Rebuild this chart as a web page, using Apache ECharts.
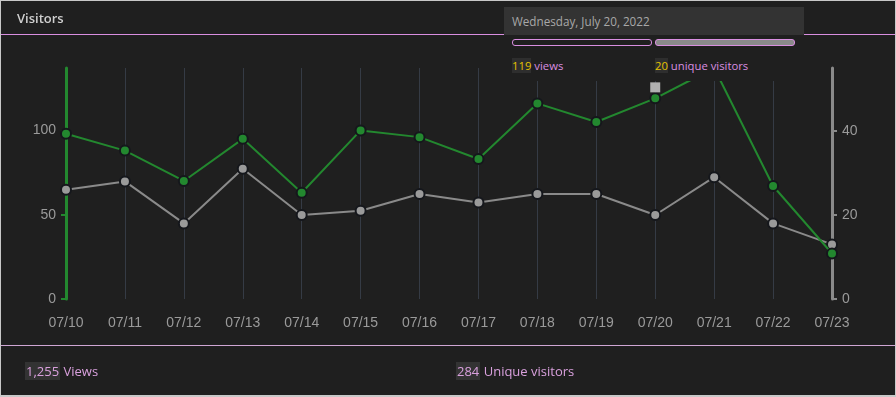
<!DOCTYPE html>
<html>
<head>
<meta charset="utf-8">
<script src="https://cdn.jsdelivr.net/npm/echarts@6/dist/echarts.min.js"></script>
<style>
  html, body { margin: 0; padding: 0; background: #1f1f1f; }
  .panel {
    position: relative; width: 896px; height: 397px; box-sizing: border-box;
    border: 1px solid #c8c8c8; border-bottom-width: 2px; background: #1f1f1f;
    font-family: "Open Sans", "Noto Sans", sans-serif; overflow: hidden;
  }
  .title { position: absolute; left: 16px; top: 8px; font-size: 13px; font-weight: 600; color: #cfcfcf; }
  .topline { position: absolute; left: 0; right: 0; top: 33px; height: 1px; background: #d98ee0; }
  .bottomline { position: absolute; left: 0; right: 0; top: 344px; height: 1px; background: #cfa6d4; }
  #visitorsChart { position: absolute; left: -1px; top: -1px; width: 896px; height: 397px; }
  .foot { position: absolute; top: 361px; font-size: 13px; color: #d9a0dd; }
  .num { background: #333; color: #d9a0dd; padding: 0 1px; }
  .tip { position: absolute; left: 503px; top: 6px; width: 300px; height: 74px; background: #1f1f1f; z-index: 5; }
  .tiphead { height: 28px; background: #333; color: #a8a8a8; font-size: 11.7px; line-height: 28px; padding-left: 8px; }
  .pill { position: absolute; top: 32px; height: 5px; border: 1px solid #d98ee0; border-radius: 3px; width: 138px; }
  .tiprow { position: absolute; top: 51px; font-size: 11.3px; color: #d98ee0; }
  .ynum { background: #2e2e2e; color: #e6c200; }
</style>
</head>
<body>
<div class="panel">
  <div id="visitorsChart"></div>
  <div class="title">Visitors</div>
  <div class="topline"></div>
  <div class="tip">
    <div class="tiphead" id="tipDate"></div>
    <div class="pill" style="left:8px;"></div>
    <div class="pill" style="left:151px; background:#8a8a8a;"></div>
    <div class="tiprow" style="left:8px;"><span class="ynum" id="tipViews"></span> views</div>
    <div class="tiprow" style="left:151px;"><span class="ynum" id="tipUnique"></span> unique visitors</div>
  </div>
  <div class="bottomline"></div>
  <div class="foot" style="left:24px;"><span class="num" id="totViews"></span> Views</div>
  <div class="foot" style="left:455px;"><span class="num" id="totUnique"></span> Unique visitors</div>
</div>
<script>
var days = ["07/10", "07/11", "07/12", "07/13", "07/14", "07/15", "07/16", "07/17", "07/18", "07/19", "07/20", "07/21", "07/22", "07/23"];
var views = [98, 88, 70, 95, 63, 100, 96, 83, 116, 105, 119, 137, 67, 27];
var uniqueVisitors = [26, 28, 18, 31, 20, 21, 25, 23, 25, 25, 20, 29, 18, 13];
var totalViews = "1,255";
var totalUnique = "284";
var hoverIndex = 10;
var hoverDate = "Wednesday, July 20, 2022";

document.getElementById("tipDate").textContent = hoverDate;
document.getElementById("tipViews").textContent = views[hoverIndex];
document.getElementById("tipUnique").textContent = uniqueVisitors[hoverIndex];
document.getElementById("totViews").textContent = totalViews;
document.getElementById("totUnique").textContent = totalUnique;

var chart = echarts.init(document.getElementById("visitorsChart"));
var labelFont = { color: "#9a9a9a", fontSize: 14, fontFamily: "Liberation Sans, Arial, sans-serif" };

chart.setOption({
  backgroundColor: "transparent",
  animation: false,
  grid: { left: 66, right: 64, top: 68, bottom: 98 },
  xAxis: {
    type: "category",
    data: days,
    boundaryGap: false,
    axisLine: { show: false },
    axisTick: { show: false },
    axisLabel: Object.assign({ margin: 17 }, labelFont),
    splitLine: { show: true, lineStyle: { color: "#353b45", width: 1 } }
  },
  yAxis: [
    {
      type: "value", min: 0, max: 137, interval: 50,
      axisLine: { show: true, lineStyle: { color: "#23882f", width: 3 } },
      axisTick: { show: true, length: 5, lineStyle: { color: "#23882f", width: 2 } },
      axisLabel: Object.assign({ margin: 10, showMaxLabel: false }, labelFont),
      splitLine: { show: false }
    },
    {
      type: "value", min: 0, max: 55, interval: 20,
      axisLine: { show: true, lineStyle: { color: "#8a8a8a", width: 3 } },
      axisTick: { show: true, length: 5, lineStyle: { color: "#8a8a8a", width: 2 } },
      axisLabel: Object.assign({ margin: 10, showMaxLabel: false }, labelFont),
      splitLine: { show: false }
    }
  ],
  series: [
    {
      name: "Unique visitors",
      type: "line",
      yAxisIndex: 1,
      data: uniqueVisitors,
      symbol: "circle",
      symbolSize: 10,
      lineStyle: { color: "#8a8a8a", width: 2 },
      itemStyle: { color: "#9a9a9a", borderColor: "#15171c", borderWidth: 2 },
      z: 2
    },
    {
      name: "Views",
      type: "line",
      yAxisIndex: 0,
      data: views,
      symbol: "circle",
      symbolSize: 10,
      lineStyle: { color: "#23882f", width: 2 },
      itemStyle: { color: "#23882f", borderColor: "#15171c", borderWidth: 2 },
      markPoint: {
        symbol: "rect",
        symbolSize: 10,
        symbolOffset: [0, -11],
        label: { show: false },
        itemStyle: { color: "#b0b0b0", borderWidth: 0 },
        data: [{ coord: [hoverIndex, views[hoverIndex]] }]
      },
      z: 3
    }
  ]
});
</script>
</body>
</html>
